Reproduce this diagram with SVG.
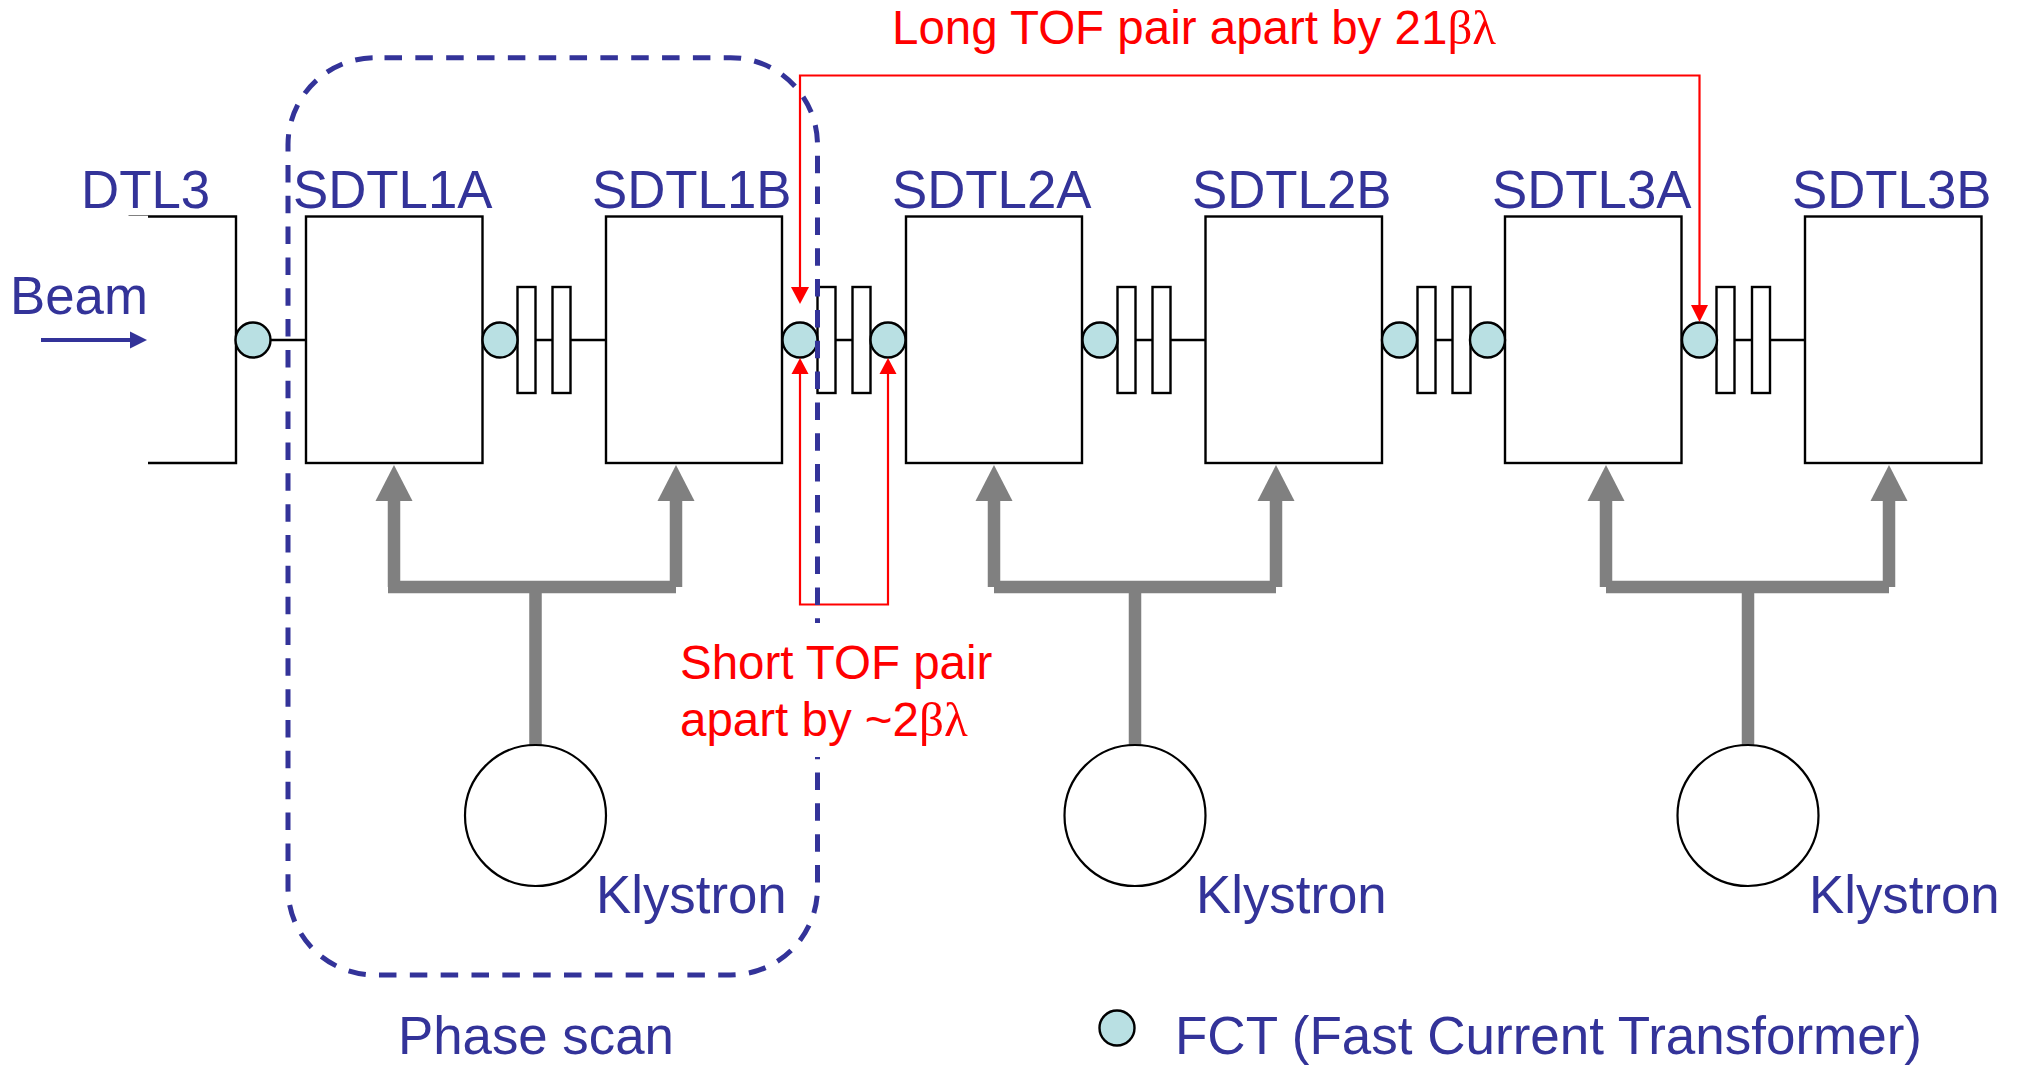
<svg xmlns="http://www.w3.org/2000/svg" width="2022" height="1065" viewBox="0 0 2022 1065">
<style>
text{font-family:"Liberation Sans",Arial,sans-serif}
.b{fill:#333399;font-size:52.800px}
.r{fill:#ff0000;font-size:47.500px}
.g{font-family:"Liberation Serif","Times New Roman",serif;font-size:49px}
.box{fill:#fff;stroke:#000;stroke-width:2.400}
.ln{fill:none;stroke:#000;stroke-width:2.400}
.fct{fill:#b9e0e3;stroke:#000;stroke-width:2.400}
.kl{fill:#fff;stroke:#000;stroke-width:2.200}
.feed{fill:none;stroke:#808080;stroke-width:12.500}
.ar{fill:#808080}
.red{fill:none;stroke:#ff0000;stroke-width:2.200}
.rh{fill:#ff0000}
</style>
<rect width="2022" height="1065" fill="#fff"/>
<g id="connectors">
<path class="ln" d="M271 340H306M518 340H606M835 340H853M871 340H906M1135 340H1153M1171 340H1205M1435 340H1453M1471 340H1505M1735 340H1752M1770 340H1805"/>
<path class="feed" d="M394 501V587M388 587H676M676 587V501M535.500 587V746"/>
<path class="feed" d="M994 501V587M994 587H1276M1276 587V501M1135 587V746"/>
<path class="feed" d="M1606 501V587M1606 587H1889M1889 587V501M1748 587V746"/>
<g class="ar">
<path d="M394 465L412.500 501H375.500Z"/><path d="M676 465L694.500 501H657.500Z"/>
<path d="M994 465L1012.500 501H975.500Z"/><path d="M1276 465L1294.500 501H1257.500Z"/>
<path d="M1606 465L1624.500 501H1587.500Z"/><path d="M1889 465L1907.500 501H1870.500Z"/>
</g>
</g>
<g id="DTL3"><path class="ln" d="M148 216.500H236V463H148"/><path d="M128.500 215.500H148" stroke="#808080" stroke-width="1" fill="none"/><text class="b" x="81" y="208">DTL3</text></g>
<g id="SDTL1A"><rect class="box" x="306" y="216.500" width="176.500" height="246.500"/><text class="b" x="293" y="208">SDTL1A</text></g>
<g id="SDTL1B"><rect class="box" x="606" y="216.500" width="176" height="246.500"/><text class="b" x="592" y="208">SDTL1B</text></g>
<g id="SDTL2A"><rect class="box" x="906" y="216.500" width="176" height="246.500"/><text class="b" x="892" y="208">SDTL2A</text></g>
<g id="SDTL2B"><rect class="box" x="1205.500" y="216.500" width="176.500" height="246.500"/><text class="b" x="1192" y="208">SDTL2B</text></g>
<g id="SDTL3A"><rect class="box" x="1505" y="216.500" width="176.500" height="246.500"/><text class="b" x="1492" y="208">SDTL3A</text></g>
<g id="SDTL3B"><rect class="box" x="1805" y="216.500" width="176.500" height="246.500"/><text class="b" x="1792" y="208">SDTL3B</text></g>
<g id="gaps">
<rect class="box" x="517.500" y="287" width="18" height="106"/><rect class="box" x="552.500" y="287" width="18" height="106"/>
<rect class="box" x="817.500" y="287" width="18" height="106"/><rect class="box" x="852.500" y="287" width="18" height="106"/>
<rect class="box" x="1117.500" y="287" width="18" height="106"/><rect class="box" x="1152.500" y="287" width="18" height="106"/>
<rect class="box" x="1417.500" y="287" width="18" height="106"/><rect class="box" x="1452.500" y="287" width="18" height="106"/>
<rect class="box" x="1716.500" y="287" width="18" height="106"/><rect class="box" x="1752" y="287" width="18" height="106"/>
</g>
<g id="fcts">
<circle class="fct" cx="253" cy="340" r="17.500"/><circle class="fct" cx="500" cy="340" r="17.500"/>
<circle class="fct" cx="800" cy="340" r="17.500"/><circle class="fct" cx="888" cy="340" r="17.500"/>
<circle class="fct" cx="1100" cy="340" r="17.500"/><circle class="fct" cx="1399.500" cy="340" r="17.500"/>
<circle class="fct" cx="1487.500" cy="340" r="17.500"/><circle class="fct" cx="1699.500" cy="340" r="17.500"/>
</g>
<g id="klystron1"><circle class="kl" cx="535.500" cy="815.500" r="70.500"/><text class="b" x="596" y="913">Klystron</text></g>
<g id="klystron2"><circle class="kl" cx="1135" cy="815.500" r="70.500"/><text class="b" x="1196" y="913">Klystron</text></g>
<g id="klystron3"><circle class="kl" cx="1748" cy="815.500" r="70.500"/><text class="b" x="1809" y="913">Klystron</text></g>
<g id="beam"><text class="b" x="10" y="314">Beam</text><path d="M41 340H132" stroke="#333399" stroke-width="4" fill="none"/><path d="M130 331.500L147 340L130 348.500Z" fill="#333399"/></g>
<g id="tof-lines">
<path class="red" d="M800 290V75.500H1699.500V308"/>
<path class="red" d="M800 372V604.500H888V372"/>
<path class="rh" d="M791 287H809L800 304Z"/><path class="rh" d="M1691 305H1708L1699.500 322Z"/>
<path class="rh" d="M791.500 374H808.500L800 358Z"/><path class="rh" d="M879.500 374H896.500L888 358Z"/>
</g>
<g id="phase-scan"><path d="M384.500 57.700H730.500A87 87 0 0 1 817.500 144.700V888A87 87 0 0 1 730.500 975H375A87 87 0 0 1 288 888V144.700A87 87 0 0 1 375 57.700Z" fill="none" stroke="#333399" stroke-width="5" stroke-dasharray="17.500 13.340"/><rect x="808" y="623" width="20" height="134" fill="#fff"/><text class="b" x="398" y="1054">Phase scan</text></g>
<g id="tof-labels">
<text class="r" x="892" y="44">Long TOF pair apart by 21<tspan class="g">βλ</tspan></text>
<text class="r" x="680" y="679">Short TOF pair</text>
<text class="r" x="680" y="736">apart by ~2<tspan class="g">βλ</tspan></text>
</g>
<g id="legend"><circle class="fct" cx="1117" cy="1028" r="17.500"/><text class="b" x="1175" y="1054" style="font-size:53px">FCT (Fast Current Transformer)</text></g>
</svg>
